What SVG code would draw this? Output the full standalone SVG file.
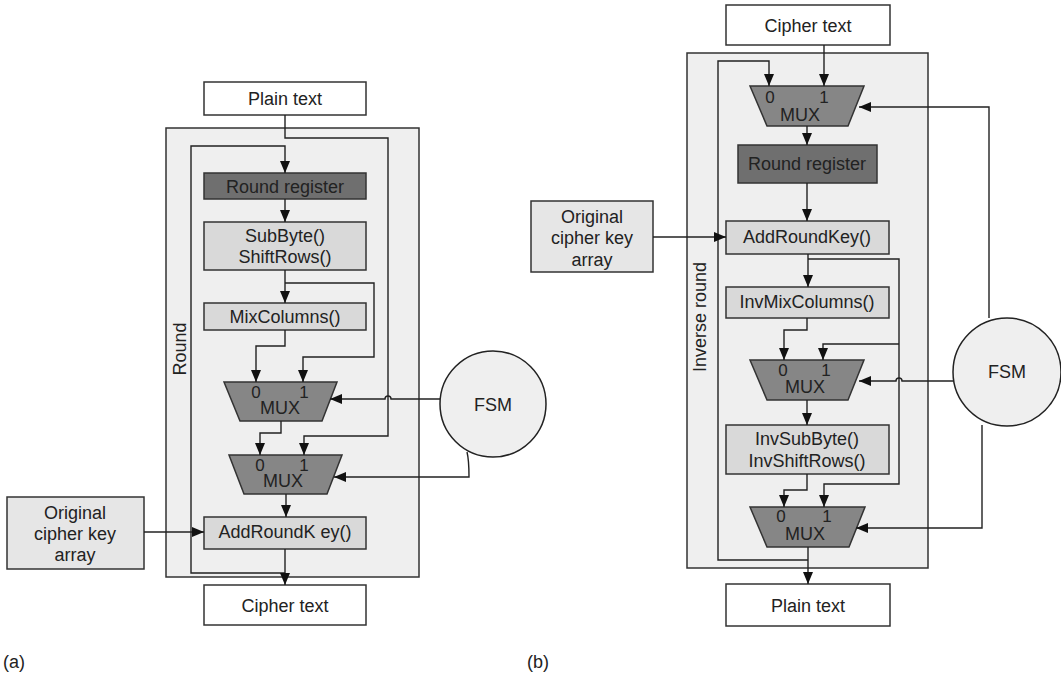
<svg xmlns="http://www.w3.org/2000/svg" width="1061" height="680" viewBox="0 0 1061 680">
<style>
text{font-family:"Liberation Sans",Arial,sans-serif;font-size:18px;fill:#222;text-anchor:middle}
.dig{font-size:17px}
.lbl{text-anchor:start}
.frame{fill:#efefef;stroke:#333;stroke-width:1.5}
.io{fill:#fff;stroke:#333;stroke-width:1.5}
.reg{fill:#6f6f6f;stroke:#333;stroke-width:1.5}
.op{fill:#d9d9d9;stroke:#333;stroke-width:1.5}
.key{fill:#e6e6e6;stroke:#333;stroke-width:1.5}
.mux{fill:#868686;stroke:#333;stroke-width:1.5}
.fsm{fill:#efefef;stroke:#222;stroke-width:1.5}
.w{fill:none;stroke:#222;stroke-width:1.4}
.a{marker-end:url(#ah)}
</style>
<defs>
<marker id="ah" markerUnits="userSpaceOnUse" markerWidth="13" markerHeight="11" refX="12" refY="5" orient="auto">
<path d="M0,0 L12,5 L0,10 z" fill="#111"/>
</marker>
</defs>

<g id="frameA"><rect class="frame" x="166" y="128" width="253" height="449"/><text transform="translate(186,349) rotate(-90)">Round</text></g>
<g id="frameB"><rect class="frame" x="687" y="53" width="241" height="515"/><text transform="translate(706,317) rotate(-90)">Inverse round</text></g>

<g id="plainA"><rect class="io" x="204" y="82" width="162" height="33"/><text x="285" y="105">Plain text</text></g>
<g id="regA"><rect class="reg" x="204" y="173" width="162" height="26"/><text x="285" y="193">Round register</text></g>
<g id="subA"><rect class="op" x="204" y="222" width="162" height="48"/><text x="285" y="242">SubByte()</text><text x="285" y="263">ShiftRows()</text></g>
<g id="mixA"><rect class="op" x="204" y="303" width="162" height="27"/><text x="285" y="323">MixColumns()</text></g>
<g id="mux1A"><path class="mux" d="M224,382 L337,382 L322,421 L240,421 Z"/><text class="dig" x="256" y="398">0</text><text class="dig" x="304" y="398">1</text><text x="280" y="414">MUX</text></g>
<g id="mux2A"><path class="mux" d="M229,455 L342,455 L327,494 L244,494 Z"/><text class="dig" x="260" y="471">0</text><text class="dig" x="304" y="471">1</text><text x="283" y="487">MUX</text></g>
<g id="addA"><rect class="op" x="204" y="517" width="162" height="32"/><text x="285" y="538">AddRoundK ey()</text></g>
<g id="keyA"><rect class="key" x="7" y="497" width="137" height="72"/><text x="75" y="519">Original</text><text x="75" y="540">cipher key</text><text x="75" y="561">array</text></g>
<g id="cipherA"><rect class="io" x="204" y="585" width="162" height="40"/><text x="285" y="612">Cipher text</text></g>
<g id="fsmA"><circle class="fsm" cx="493" cy="404" r="53"/><text x="493" y="411">FSM</text></g>

<g id="cipherB"><rect class="io" x="726" y="5" width="164" height="40"/><text x="808" y="32">Cipher text</text></g>
<g id="mux0B"><path class="mux" d="M750,86 L864,86 L848,126 L767,126 Z"/><text class="dig" x="770" y="103">0</text><text class="dig" x="824" y="103">1</text><text x="800" y="121">MUX</text></g>
<g id="regB"><rect class="reg" x="738" y="145" width="139" height="38"/><text x="807" y="170">Round register</text></g>
<g id="addB"><rect class="op" x="726" y="221" width="163" height="33"/><text x="807" y="243">AddRoundKey()</text></g>
<g id="keyB"><rect class="key" x="531" y="201" width="122" height="71"/><text x="592" y="223">Original</text><text x="592" y="244">cipher key</text><text x="592" y="266">array</text></g>
<g id="invmixB"><rect class="op" x="726" y="287" width="163" height="31"/><text x="807" y="308">InvMixColumns()</text></g>
<g id="mux1B"><path class="mux" d="M750,360 L864,360 L848,400 L767,400 Z"/><text class="dig" x="783" y="376">0</text><text class="dig" x="826" y="376">1</text><text x="805" y="393">MUX</text></g>
<g id="invsubB"><rect class="op" x="726" y="425" width="163" height="49"/><text x="807" y="445">InvSubByte()</text><text x="807" y="467">InvShiftRows()</text></g>
<g id="mux2B"><path class="mux" d="M750,507 L865,507 L849,547 L767,547 Z"/><text class="dig" x="781" y="522">0</text><text class="dig" x="827" y="522">1</text><text x="805" y="540">MUX</text></g>
<g id="plainB"><rect class="io" x="726" y="584" width="164" height="42"/><text x="808" y="612">Plain text</text></g>
<g id="fsmB"><circle class="fsm" cx="1007" cy="372" r="54"/><text x="1007" y="378">FSM</text></g>

<g id="captions"><text class="lbl" x="3" y="668">(a)</text><text class="lbl" x="527" y="668">(b)</text></g>

<g id="connectors">
<!-- panel a -->
<path class="w" d="M285,115 V138 H388 V436 H304 V455" marker-end="url(#ah)"/>
<path class="w a" d="M285,573 H191 V146 H285 V173"/>
<path class="w a" d="M285,199 V222"/>
<path class="w a" d="M285,270 V303"/>
<path class="w a" d="M285,283 H374 V357 H303 V382"/>
<path class="w a" d="M285,330 V346 H256 V382"/>
<path class="w a" d="M440,399 H391 A3,3 0 0 0 385,399 H330"/>
<path class="w a" d="M281,421 V433 H260 V455"/>
<path class="w a" d="M467,452 Q469,460 469,477 H334"/>
<path class="w a" d="M286,494 V517"/>
<path class="w a" d="M144,532 H204"/>
<path class="w a" d="M285,549 V585"/>
<!-- panel b -->
<path class="w a" d="M824,45 V86"/>
<path class="w a" d="M808,560 H718 V61 H769 V86"/>
<path class="w a" d="M807,126 V145"/>
<path class="w a" d="M807,183 V221"/>
<path class="w a" d="M653,237 H726"/>
<path class="w a" d="M808,254 V287"/>
<path class="w a" d="M808,259 H899 V484 H824 V507"/>
<path class="w a" d="M899,344 H823 V360"/>
<path class="w a" d="M807,318 V330 H784 V360"/>
<path class="w a" d="M953,381 H902 A3,3 0 0 0 896,381 H859"/>
<path class="w a" d="M989,318 V107 H859"/>
<path class="w a" d="M807,400 V425"/>
<path class="w a" d="M807,474 V490 H784 V507"/>
<path class="w a" d="M982,425 V528 H856"/>
<path class="w a" d="M808,547 V584"/>
</g>
</svg>
